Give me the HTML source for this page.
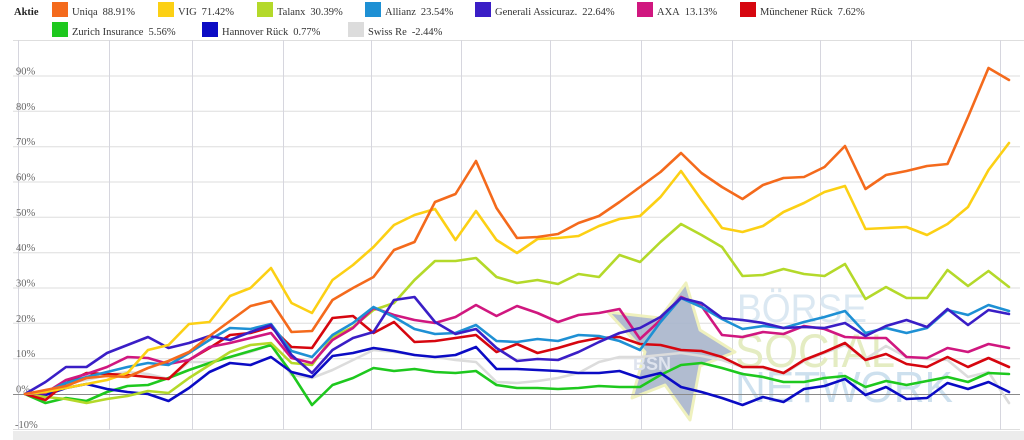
<!DOCTYPE html>
<html><head><meta charset="utf-8"><style>
html,body{margin:0;padding:0;background:#fff;}
svg{display:block;}
</style></head><body>
<svg width="1024" height="440" viewBox="0 0 1024 440" xmlns="http://www.w3.org/2000/svg">
<rect x="0" y="0" width="1024" height="440" fill="#ffffff"/>
<!-- legend -->
<g font-family="Liberation Serif, serif" font-size="10.5" fill="#333">
<text x="14" y="15" font-weight="bold" fill="#222">Aktie</text>
<rect x="52" y="2" width="16" height="15" fill="#f46a1c"/><text x="72" y="15">Uniqa<tspan dx="5">88.91%</tspan></text>
<rect x="158" y="2" width="16" height="15" fill="#fcd014"/><text x="178" y="15">VIG<tspan dx="5">71.42%</tspan></text>
<rect x="257" y="2" width="16" height="15" fill="#b4d92a"/><text x="277" y="15">Talanx<tspan dx="5">30.39%</tspan></text>
<rect x="365" y="2" width="16" height="15" fill="#1e90d4"/><text x="385" y="15">Allianz<tspan dx="5">23.54%</tspan></text>
<rect x="475" y="2" width="16" height="15" fill="#3a1ec6"/><text x="495" y="15">Generali Assicuraz.<tspan dx="5">22.64%</tspan></text>
<rect x="637" y="2" width="16" height="15" fill="#d0177f"/><text x="657" y="15">AXA<tspan dx="5">13.13%</tspan></text>
<rect x="740" y="2" width="16" height="15" fill="#d6060f"/><text x="760" y="15">Münchener Rück<tspan dx="5">7.62%</tspan></text>
<rect x="52" y="22" width="16" height="15" fill="#1ec81e"/><text x="72" y="35">Zurich Insurance<tspan dx="5">5.56%</tspan></text>
<rect x="202" y="22" width="16" height="15" fill="#0b0bc4"/><text x="222" y="35">Hannover Rück<tspan dx="5">0.77%</tspan></text>
<rect x="348" y="22" width="16" height="15" fill="#dcdcdc"/><text x="368" y="35">Swiss Re<tspan dx="5">-2.44%</tspan></text>
</g>
<!-- grid -->
<g stroke="#dedede" stroke-width="1">
<line x1="13" y1="40.5" x2="1024" y2="40.5"/>
<line x1="13" y1="76" x2="1020" y2="76"/>
<line x1="13" y1="111.3" x2="1020" y2="111.3"/>
<line x1="13" y1="146.7" x2="1020" y2="146.7"/>
<line x1="13" y1="182" x2="1020" y2="182"/>
<line x1="13" y1="217.3" x2="1020" y2="217.3"/>
<line x1="13" y1="252.7" x2="1020" y2="252.7"/>
<line x1="13" y1="288" x2="1020" y2="288"/>
<line x1="13" y1="323.3" x2="1020" y2="323.3"/>
<line x1="13" y1="358.7" x2="1020" y2="358.7"/>
<line x1="13" y1="429.5" x2="1020" y2="429.5"/>
</g>
<g stroke="#d6d6de" stroke-width="1">
<line x1="18.5" y1="40" x2="18.5" y2="430"/>
<line x1="109.5" y1="40" x2="109.5" y2="430"/>
<line x1="192.5" y1="40" x2="192.5" y2="430"/>
<line x1="283.5" y1="40" x2="283.5" y2="430"/>
<line x1="371.5" y1="40" x2="371.5" y2="430"/>
<line x1="461.5" y1="40" x2="461.5" y2="430"/>
<line x1="550.5" y1="40" x2="550.5" y2="430"/>
<line x1="641.5" y1="40" x2="641.5" y2="430"/>
<line x1="732.5" y1="40" x2="732.5" y2="430"/>
<line x1="820.5" y1="40" x2="820.5" y2="430"/>
<line x1="911.5" y1="40" x2="911.5" y2="430"/>
<line x1="1000.5" y1="40" x2="1000.5" y2="430"/>
</g>
<!-- navigator band -->
<rect x="13" y="431" width="1011" height="9" fill="#ececec"/>
<!-- watermark -->
<g>
<polygon points="686,283 700,330 735,352 700,366 690,420 665,385 632,398 645,352 608,312 660,318" fill="#a9b5cc" stroke="#eef0b8" stroke-width="3" stroke-linejoin="round" opacity="0.9"/>
<text x="633" y="370" font-family="Liberation Sans, sans-serif" font-size="18" font-weight="bold" fill="#dfe4ee">BSN</text>
<text x="737" y="322" font-family="Liberation Sans, sans-serif" font-size="40" fill="#dbe8f2" textLength="130" lengthAdjust="spacingAndGlyphs">BÖRSE</text>
<text x="735" y="367" font-family="Liberation Sans, sans-serif" font-size="47" fill="#e4ecc2" textLength="160" lengthAdjust="spacingAndGlyphs">SOCIAL</text>
<text x="735" y="402" font-family="Liberation Sans, sans-serif" font-size="44" fill="#cde0ee" textLength="218" lengthAdjust="spacingAndGlyphs">NETWORK</text>
</g>
<!-- zero line -->
<line x1="13" y1="394.5" x2="1020" y2="394.5" stroke="#8a8a8a" stroke-width="1"/>
<!-- y labels -->
<g font-family="Liberation Serif, serif" font-size="10.5" fill="#666">
<text x="16" y="74.5">90%</text>
<text x="16" y="109.8">80%</text>
<text x="16" y="145.2">70%</text>
<text x="16" y="180.5">60%</text>
<text x="16" y="215.8">50%</text>
<text x="16" y="251.2">40%</text>
<text x="16" y="286.5">30%</text>
<text x="16" y="321.8">20%</text>
<text x="16" y="357.2">10%</text>
<text x="16" y="392.5">0%</text>
<text x="15" y="428">-10%</text>
</g>
<!-- series -->
<g fill="none" stroke-width="2.6" stroke-linejoin="round" stroke-linecap="round">
<polyline stroke="#dcdcdc" points="25,394 45.5,392 66,383 86.5,380 107,375 127.5,372 148,374 168.5,379 189,362 209.5,362 230,357 250.5,352 271,345 291.5,375 312,378 332.5,370 353,360 373.5,350 394,352 414.5,355 435,357 455.5,360 476,362 496.5,382 517,383 537.5,381 558,378 578.5,373 599,362 619.5,357 640,357 660.5,355 681,353 701.5,356 722,360 742.5,367 763,368 783.5,374 804,361 824.5,353 845,345 865.5,359 886,346 906.5,357 927,359 947.5,360 968,377 988.5,372 1009,403"/>
<polyline stroke="#1ec81e" points="25,394 45.5,403 66,398 86.5,401 107,392 127.5,386 148,385 168.5,378 189,370 209.5,363 230,357 250.5,351 271,345 291.5,373 312,405 332.5,385 353,378 373.5,368 394,371 414.5,369 435,372 455.5,373 476,371 496.5,385 517,388 537.5,388 558,389 578.5,388 599,386 619.5,387 640,387 660.5,375 681,365 701.5,363 722,368 742.5,374 763,377 783.5,382 804,382 824.5,378 845,376 865.5,387 886,381 906.5,385 927,381 947.5,377 968,382 988.5,373 1009,374"/>
<polyline stroke="#0b0bc4" points="25,394 45.5,395 66,388 86.5,384 107,389 127.5,392 148,394 168.5,401 189,388 209.5,372 230,363 250.5,365 271,357 291.5,372 312,377 332.5,356 353,353 373.5,348 394,351 414.5,355 435,357 455.5,355 476,347 496.5,369 517,369 537.5,370 558,371 578.5,373 599,373 619.5,371 640,378 660.5,373 681,387 701.5,392 722,398 742.5,405 763,397 783.5,402 804,389 824.5,386 845,379 865.5,395 886,387 906.5,399 927,398 947.5,383 968,389 988.5,382 1009,392"/>
<polyline stroke="#b4d92a" points="25,394 45.5,397 66,399 86.5,403 107,399 127.5,396 148,391 168.5,393 189,378 209.5,365 230,352 250.5,345 271,343 291.5,363 312,365 332.5,337 353,327 373.5,310 394,303 414.5,280 435,261 455.5,261 476,258 496.5,277 517,283 537.5,280 558,284 578.5,274 599,277 619.5,255 640,262 660.5,242 681,224 701.5,235 722,247 742.5,276 763,275 783.5,269 804,274 824.5,276 845,264 865.5,299 886,287 906.5,298 927,298 947.5,270 968,286 988.5,271 1009,287"/>
<polyline stroke="#d6060f" points="25,394 45.5,400 66,383 86.5,373 107,374 127.5,375 148,377 168.5,379 189,360 209.5,348 230,335 250.5,333 271,327 291.5,347 312,348 332.5,318 353,316 373.5,333 394,322 414.5,342 435,341 455.5,338 476,335 496.5,352 517,344 537.5,353 558,348 578.5,342 599,338 619.5,337 640,344 660.5,345 681,350 701.5,351 722,357 742.5,367 763,367 783.5,373 804,360 824.5,352 845,343 865.5,360 886,354 906.5,364 927,367 947.5,357 968,367 988.5,358 1009,367"/>
<polyline stroke="#d0177f" points="25,394 45.5,393 66,380 86.5,374 107,367 127.5,357 148,358 168.5,364 189,360 209.5,347 230,343 250.5,338 271,333 291.5,358 312,363 332.5,340 353,328 373.5,308 394,315 414.5,320 435,323 455.5,317 476,305 496.5,316 517,306 537.5,313 558,322 578.5,315 599,313 619.5,309 640,339 660.5,320 681,297 701.5,306 722,335 742.5,337 763,332 783.5,334 804,326 824.5,329 845,337 865.5,338 886,338 906.5,357 927,358 947.5,348 968,352 988.5,344 1009,348"/>
<polyline stroke="#1e90d4" points="25,394 45.5,392 66,383 86.5,377 107,372 127.5,367 148,363 168.5,365 189,353 209.5,340 230,328 250.5,329 271,324 291.5,351 312,357 332.5,335 353,323 373.5,307 394,317 414.5,329 435,334 455.5,333 476,325 496.5,341 517,342 537.5,339 558,341 578.5,335 599,336 619.5,341 640,350 660.5,322 681,298 701.5,307 722,319 742.5,329 763,326 783.5,328 804,322 824.5,317 845,311 865.5,333 886,328 906.5,333 927,328 947.5,310 968,315 988.5,305 1009,311"/>
<polyline stroke="#3a1ec6" points="25,394 45.5,382 66,367 86.5,367 107,353 127.5,345 148,337 168.5,348 189,343 209.5,336 230,340 250.5,332 271,325 291.5,355 312,373 332.5,350 353,338 373.5,332 394,300 414.5,297 435,322 455.5,334 476,329 496.5,348 517,361 537.5,359 558,360 578.5,352 599,342 619.5,333 640,328 660.5,317 681,298 701.5,303 722,318 742.5,320 763,323 783.5,328 804,327 824.5,328 845,323 865.5,336 886,326 906.5,320 927,327 947.5,309 968,325 988.5,310 1009,314"/>
<polyline stroke="#fcd014" points="25,394 45.5,392 66,388 86.5,384 107,380 127.5,373 148,350 168.5,345 189,324 209.5,322 230,296 250.5,288 271,268 291.5,303 312,313 332.5,280 353,265 373.5,247 394,225 414.5,215 435,209 455.5,240 476,211 496.5,240 517,253 537.5,239 558,238 578.5,236 599,226 619.5,219 640,216 660.5,197 681,171 701.5,200 722,228 742.5,232 763,226 783.5,212 804,203 824.5,192 845,186 865.5,229 886,228 906.5,227 927,235 947.5,224 968,207 988.5,170 1009,143"/>
<polyline stroke="#f46a1c" points="25,394 45.5,390 66,386 86.5,378 107,376 127.5,377 148,368 168.5,361 189,352 209.5,336 230,321 250.5,306 271,301 291.5,332 312,331 332.5,300 353,288 373.5,277 394,250 414.5,242 435,202 455.5,194 476,161 496.5,208 517,238 537.5,237 558,234 578.5,223 599,216 619.5,202 640,187 660.5,172 681,153 701.5,173 722,187 742.5,199 763,185 783.5,178 804,177 824.5,167 845,146 865.5,189 886,175 906.5,171 927,166 947.5,164 968,117 988.5,68 1009,80"/>
</g>
</svg>
</body></html>
